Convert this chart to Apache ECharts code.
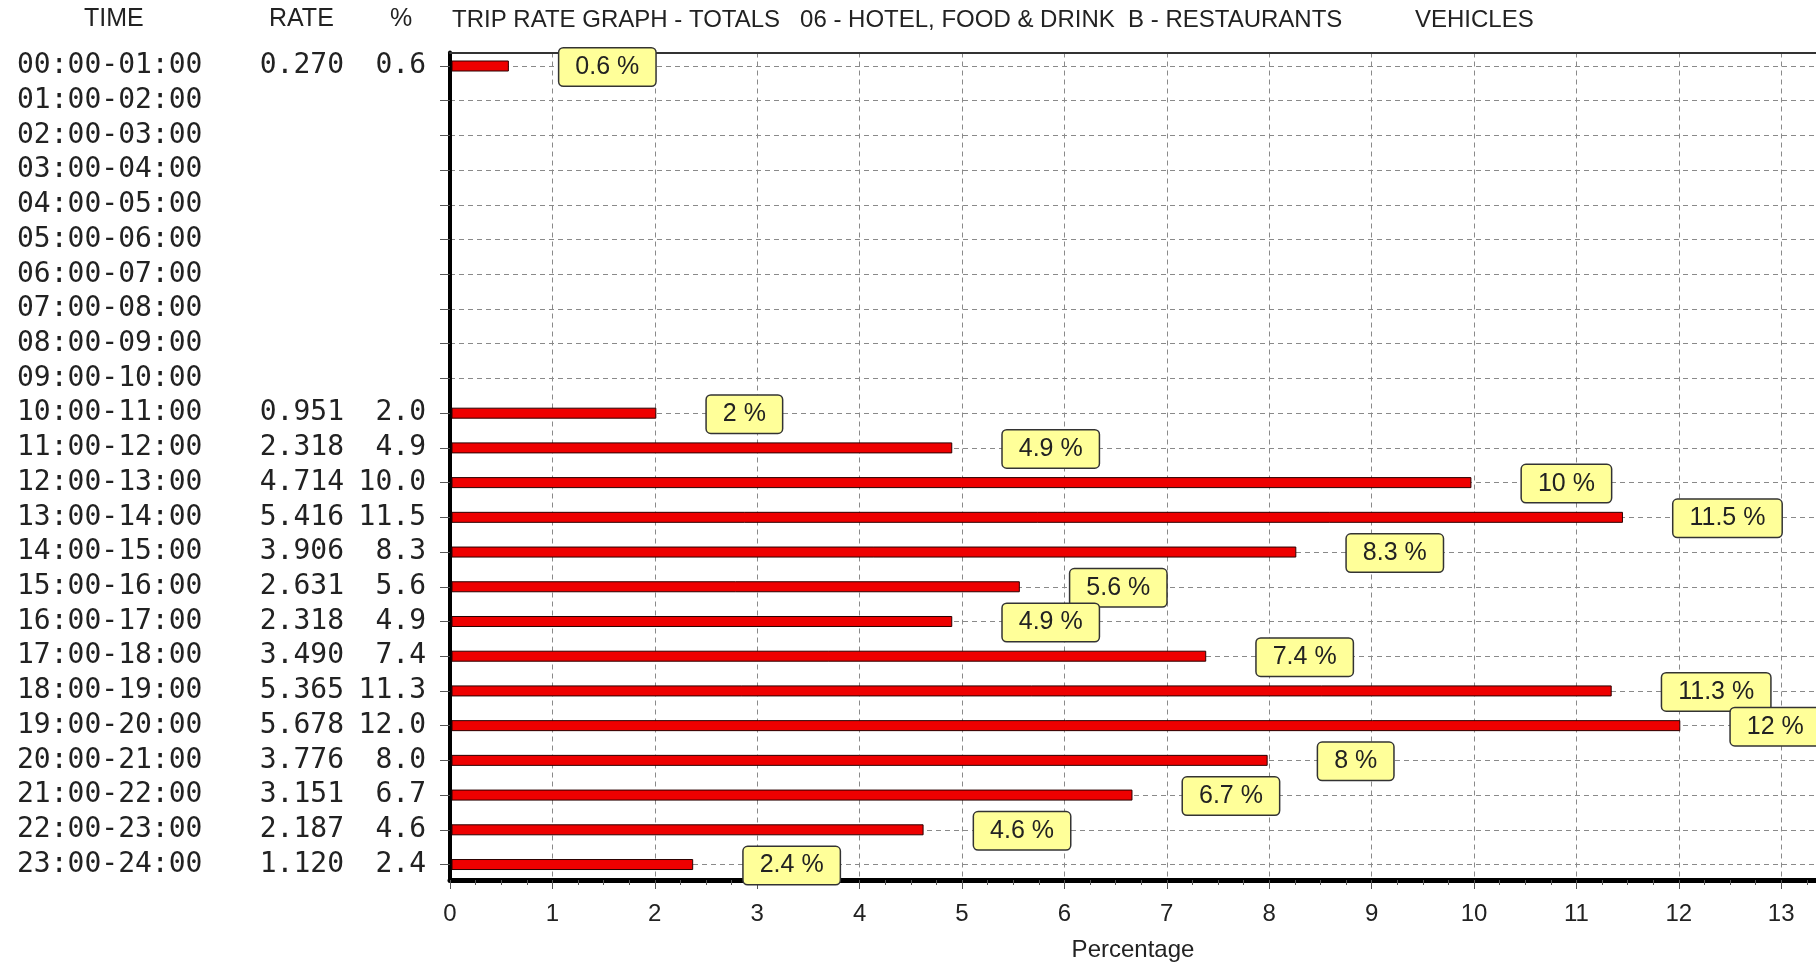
<!DOCTYPE html>
<html><head><meta charset="utf-8">
<script src="https://cdn.jsdelivr.net/npm/echarts@6/dist/echarts.min.js"></script>
<style>html,body{margin:0;padding:0;background:#fff}#c{width:1816px;height:967px}</style>
</head><body><div id="c"></div>
<script>
// ---- data ----
const times = ['00:00-01:00','01:00-02:00','02:00-03:00','03:00-04:00','04:00-05:00','05:00-06:00',
  '06:00-07:00','07:00-08:00','08:00-09:00','09:00-10:00','10:00-11:00','11:00-12:00',
  '12:00-13:00','13:00-14:00','14:00-15:00','15:00-16:00','16:00-17:00','17:00-18:00',
  '18:00-19:00','19:00-20:00','20:00-21:00','21:00-22:00','22:00-23:00','23:00-24:00'];
const rates = [0.270, null, null, null, null, null, null, null, null, null,
  0.951, 2.318, 4.714, 5.416, 3.906, 2.631, 2.318, 3.490, 5.365, 5.678, 3.776, 3.151, 2.187, 1.120];
const pcts = [0.6, null, null, null, null, null, null, null, null, null,
  2.0, 4.9, 10.0, 11.5, 8.3, 5.6, 4.9, 7.4, 11.3, 12.0, 8.0, 6.7, 4.6, 2.4];
// bar lengths as drawn in the picture (percentage)
const barPct = [0.57, null, null, null, null, null, null, null, null, null,
  2.01, 4.90, 9.97, 11.45, 8.26, 5.56, 4.90, 7.38, 11.34, 12.01, 7.98, 6.66, 4.62, 2.37];
const headers = ['TIME', 'RATE', '%'];
const titleText = 'TRIP RATE GRAPH - TOTALS   06 - HOTEL, FOOD & DRINK  B - RESTAURANTS';
const titleMode = 'VEHICLES';
const xName = 'Percentage';

const rowIdx = times.map((_, i) => i);
const barData = [];
rowIdx.forEach(i => { if (barPct[i] != null) barData.push([barPct[i], i, pcts[i]]); });

const SANS = "'Liberation Sans', Arial, sans-serif";
const MONO = "'DejaVu Sans Mono', monospace";
const fmtPct = v => String(Number(v));
const hdrFont = "25px " + SANS;
const ttlFont = "24px " + SANS;

const chart = echarts.init(document.getElementById('c'), null, {renderer: 'canvas'});
chart.setOption({
  animation: false,
  backgroundColor: '#ffffff',
  grid: {left: 450, right: 0, top: 52.5, bottom: 86.5},
  graphic: [
    {type: 'text', left: 84, top: 7, style: {text: headers[0], font: hdrFont, fill: '#222'}},
    {type: 'text', left: 269, top: 7, style: {text: headers[1], font: hdrFont, fill: '#222'}},
    {type: 'text', left: 390, top: 7, style: {text: headers[2], font: hdrFont, fill: '#222'}},
    {type: 'text', left: 452, top: 8, style: {text: titleText, font: ttlFont, fill: '#222'}},
    {type: 'text', left: 1415, top: 8, style: {text: titleMode, font: ttlFont, fill: '#222'}}
  ],
  xAxis: [{
    type: 'value', min: 0, max: 13.34, interval: 1, position: 'bottom',
    name: xName, nameLocation: 'middle', nameGap: 58,
    nameTextStyle: {fontSize: 24, fontFamily: SANS, color: '#222'},
    axisLine: {show: true, onZero: false, lineStyle: {color: '#000', width: 5}},
    axisTick: {show: true, length: 9, lineStyle: {color: '#555', width: 1}},
    minorTick: {show: true, splitNumber: 4, length: 5, lineStyle: {color: '#555', width: 1}},
    axisLabel: {fontSize: 24, fontFamily: SANS, color: '#222', margin: 22, showMaxLabel: false},
    splitLine: {show: true, lineStyle: {color: '#8a8a8a', width: 1, type: [5, 4]}}
  }, {
    type: 'value', min: 0, max: 13.34, position: 'top',
    axisLine: {show: true, onZero: false, lineStyle: {color: '#333', width: 2}},
    axisTick: {show: false}, axisLabel: {show: false}, splitLine: {show: false}
  }],
  yAxis: {
    type: 'value', inverse: true, min: -0.389, max: 23.446,
    axisLine: {show: true, onZero: false, lineStyle: {color: '#000', width: 4}},
    axisTick: {show: true, customValues: rowIdx, length: 10, lineStyle: {color: '#555', width: 1}},
    axisLabel: {
      customValues: rowIdx, margin: 24,
      formatter: v => {
        const i = Math.round(v);
        const r = rates[i] == null ? ' ' : rates[i].toFixed(3);
        const p = pcts[i] == null ? ' ' : pcts[i].toFixed(1);
        return '{t|' + times[i] + '}{r|' + r + '}{p|' + p + '}';
      },
      rich: {
        t: {width: 200, align: 'left', fontFamily: MONO, fontSize: 28, color: '#222'},
        r: {width: 127, align: 'right', fontFamily: MONO, fontSize: 28, color: '#222'},
        p: {width: 82, align: 'right', fontFamily: MONO, fontSize: 28, color: '#222'}
      }
    },
    splitLine: {show: true, lineStyle: {color: '#8a8a8a', width: 1, type: [5, 4]}}
  },
  series: [{
    type: 'custom', silent: true, z: 3,
    data: barData, encode: {x: 0, y: 1},
    renderItem: (params, api) => {
      const row = api.value(1), v = api.value(0);
      const s = api.coord([0, row]), e = api.coord([v, row]);
      return {type: 'rect', shape: {x: s[0] + 2, y: s[1] - 5, width: e[0] - s[0] - 2, height: 10},
        style: {fill: '#ee0000', stroke: '#2a0000', lineWidth: 1}};
    }
  }, {
    type: 'custom', silent: true, z: 5,
    data: barData, encode: {x: 0, y: 1},
    renderItem: (params, api) => {
      const row = api.value(1), v = api.value(0), p = api.value(2);
      const e = api.coord([v, row]);
      return {type: 'text', x: e[0] + 51, y: e[1] + 1,
        style: {text: fmtPct(p) + ' %', font: '25px ' + SANS, fill: '#222',
          align: 'left', verticalAlign: 'middle',
          backgroundColor: '#ffff99', borderColor: '#333', borderWidth: 1.5, borderRadius: 4,
          padding: [6, 16, 6, 16]}};
    }
  }]
});
</script></body></html>
